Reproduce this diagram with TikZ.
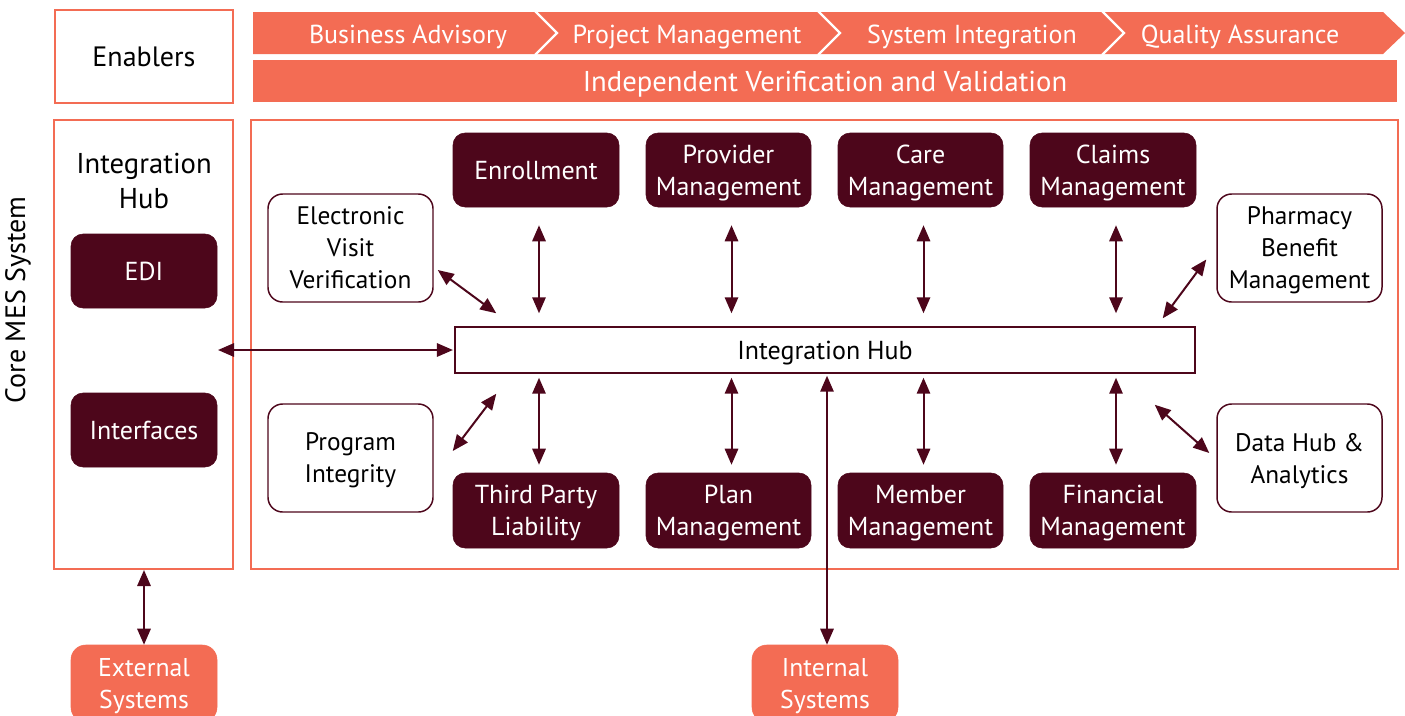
\documentclass[tikz,border=0pt]{standalone}
\usepackage{fontspec}
\setmainfont{PT Sans}
\usetikzlibrary{arrows.meta,calc}
\definecolor{salmon}{HTML}{F36C54}
\definecolor{maroon}{HTML}{4D061B}
\begin{document}
\begin{tikzpicture}[x=0.75pt,y=-0.75pt,
  box/.style n args={4}{minimum width={(#3-#1)*0.75pt},minimum height={(#4-#2)*0.75pt},at={({(#1+#3)/2},{(#2+#4)/2})}},
  frame/.style={draw=salmon,line width=1.5pt,inner sep=0pt,text depth=0pt},
  dbox/.style={fill=maroon,draw=maroon,rounded corners=9pt,inner sep=0pt,text=white,align=center,text depth=0pt,font=\fontsize{19.5}{24}\selectfont},
  wbox/.style={fill=white,draw=maroon,line width=1.1pt,rounded corners=11pt,inner sep=0pt,text=black,align=center,text depth=0pt,font=\fontsize{19}{24}\selectfont},
  obox/.style={fill=salmon,draw=salmon,rounded corners=11pt,inner sep=0pt,text=white,align=center,text depth=0pt,font=\fontsize{19.3}{24}\selectfont},
  hubbar/.style={fill=white,draw=maroon,line width=1.1pt,inner sep=0pt,text depth=0pt,font=\fontsize{19.5}{22}\selectfont},
  chevtext/.style={text=white,text depth=0pt,font=\fontsize{19.5}{22}\selectfont},
  biarrow/.style={draw=maroon,line width=1.5pt,{Triangle[length=12pt,width=10pt]}-{Triangle[length=12pt,width=10pt]}},
]
\useasboundingbox (0,0) rectangle (1405,715);

% enablers
\node[frame,box={55}{10}{233}{103},font=\fontsize{21}{24}\selectfont] (enab) {Enablers};
\fill[salmon] (253,12) -- (1383,12) -- (1405,33) -- (1383,54) -- (253,54) -- cycle;
\foreach \sx in {535,818,1102}
  \draw[white,line width=1.8pt] (\sx,11) -- (\sx+22,33) -- (\sx,55);
\node[chevtext] (ba) at (408,34) {Business Advisory};
\node[chevtext] (pm) at (687,34) {Project Management};
\node[chevtext] (si) at (972,34) {System Integration};
\node[chevtext] (qa) at (1240,34) {Quality Assurance};
\node[fill=salmon,inner sep=0pt,text depth=0pt,box={253}{60}{1397}{102},text=white,font=\fontsize{21.5}{24}\selectfont] (ivv) {Independent Verification and Validation};

% frames
\node[frame,box={54}{120}{233}{569}] (lbox) {};
\node[frame,box={251}{120}{1398}{569}] (mbox) {};
\node[rotate=90,font=\fontsize{21}{24}\selectfont] (core) at (18,300) {Core MES System};
\node[align=center,text depth=0pt,font=\fontsize{21.5}{26}\selectfont] (ihtitle) at (144,181) {Integration\\Hub};
\node[dbox,box={71}{234}{217}{308}] (edi) {EDI};
\node[dbox,box={71}{393}{217}{467}] (intf) {Interfaces};

% top row
\node[dbox,box={453}{133}{619}{207}] (enr) {Enrollment};
\node[dbox,box={646}{133}{811}{207}] (prov) {Provider\\Management};
\node[dbox,box={838}{133}{1003}{207}] (care) {Care\\Management};
\node[dbox,box={1030}{133}{1196}{207}] (claims) {Claims\\Management};
% bottom row
\node[dbox,box={453}{473}{619}{548}] (tpl) {Third Party\\Liability};
\node[dbox,box={646}{473}{811}{548}] (plan) {Plan\\Management};
\node[dbox,box={838}{473}{1003}{548}] (memb) {Member\\Management};
\node[dbox,box={1030}{473}{1196}{548}] (fin) {Financial\\Management};
% side boxes
\node[wbox,box={268}{194}{433}{302}] (evv) {Electronic\\Visit\\Verification};
\node[wbox,box={268}{404}{433}{512}] (pi) {Program\\Integrity};
\node[wbox,box={1217}{194}{1382}{302}] (pbm) {Pharmacy\\Benefit\\Management};
\node[wbox,box={1217}{404}{1382}{512}] (dh) {Data Hub \&\\Analytics};
% hub
\node[hubbar,box={455}{327}{1195}{373}] (hub) {Integration Hub};
% bottom systems
\node[obox,box={71}{645}{217}{722}] (ext) {External\\Systems};
\node[obox,box={752}{645}{898}{722}] (int) {Internal\\Systems};

% vertical arrows
\foreach \b in {enr,prov,care,claims}
  \draw[biarrow,shorten <=13.5pt,shorten >=9.75pt] ([xshift=2.25pt]\b.south) -- ([xshift=2.25pt]\b.south |- hub.north);
\foreach \b in {tpl,plan,memb,fin}
  \draw[biarrow,shorten <=3pt,shorten >=6pt] ([xshift=2.25pt]\b.north |- hub.south) -- ([xshift=2.25pt]\b.north);
% diagonals
\draw[biarrow] ([shift={(4,22)}]evv.east) -- ([shift={(42,-13)}]hub.north west);
\draw[biarrow] ([shift={(19,-7)}]pi.east) -- ([shift={(42,20)}]hub.south west);
\draw[biarrow] ([shift={(-33,-8)}]hub.north east) -- ([shift={(-10,11.5)}]pbm.west);
\draw[biarrow] ([shift={(-41,31)}]hub.south east) -- ([shift={(-7,-5)}]dh.west);
% horizontal
\coordinate (lhub) at (218,350);
\draw[biarrow,shorten >=1pt] (lhub) -- (hub.west);
% externals
\draw[biarrow] (lbox.south -| ext.north) -- (ext.north);
\draw[biarrow,shorten <=1.5pt] ([xshift=1.5pt]int.north |- hub.south) -- ([xshift=1.5pt]int.north);
\end{tikzpicture}
\end{document}
